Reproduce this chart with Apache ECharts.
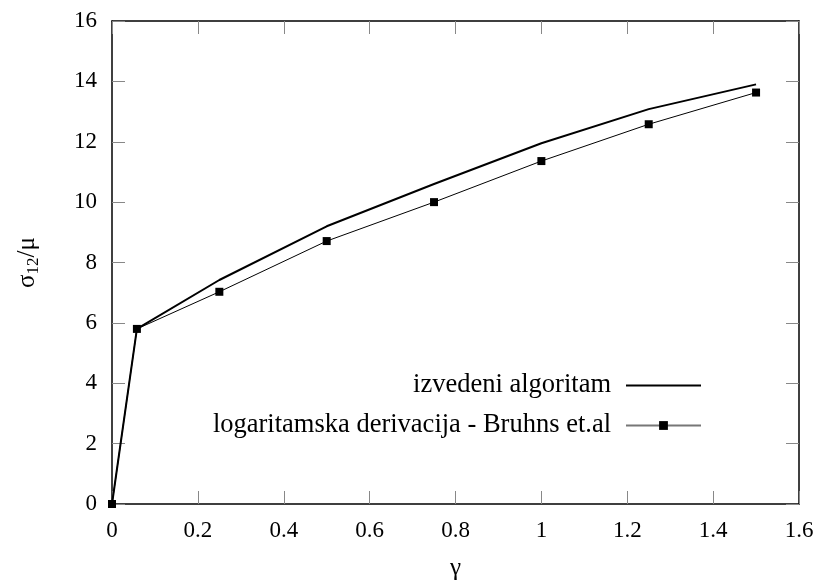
<!DOCTYPE html>
<html>
<head>
<meta charset="utf-8">
<script src="https://cdn.jsdelivr.net/npm/echarts@6/dist/echarts.min.js"></script>
<style>
  html, body { margin: 0; padding: 0; background: #fff; }
  #chart { width: 821px; height: 582px; }
</style>
</head>
<body>
<div id="chart"></div>
<script>
// gamma values (x)
const gamma = [0, 0.058, 0.25, 0.5, 0.75, 1.0, 1.25, 1.5];
// izvedeni algoritam
const izvedeni = [0, 5.8, 7.42, 9.2, 10.6, 11.95, 13.08, 13.9];
// logaritamska derivacija - Bruhns et.al
const bruhns = [0, 5.8, 7.03, 8.71, 10.0, 11.36, 12.58, 13.63];

const serif = 'Liberation Serif';
const pairs = (ys) => gamma.map((g, i) => [g, ys[i]]);

const tick = { show: true, inside: true, length: 13, lineStyle: { color: '#888', width: 1 } };
const line = { show: true, onZero: false, lineStyle: { color: '#000', width: 1.5 } };

const chart = echarts.init(document.getElementById('chart'));
chart.setOption({
  animation: false,
  backgroundColor: '#fff',
  grid: { left: 112, right: 22, top: 21, bottom: 78, outerBoundsMode: 'none', containLabel: false },
  legend: {
    orient: 'vertical',
    align: 'right',
    right: 114,
    top: 367,
    itemWidth: 75,
    itemHeight: 11,
    itemGap: 13,
    textStyle: { fontFamily: serif, fontSize: 26.5, lineHeight: 26, color: '#000', padding: [0, 10, 0, 0] },
    data: [
      { name: 'izvedeni algoritam', itemStyle: { opacity: 0 } },
      { name: 'logaritamska derivacija - Bruhns et.al', lineStyle: { color: '#777' } }
    ]
  },
  xAxis: [
    {
      type: 'value', min: 0, max: 1.6, interval: 0.2, position: 'bottom',
      name: 'γ', nameLocation: 'middle', nameGap: 52,
      nameTextStyle: { fontFamily: serif, fontSize: 25, color: '#000' },
      axisLine: line, axisTick: tick, splitLine: { show: false },
      axisLabel: { fontFamily: serif, fontSize: 23, color: '#000', margin: 15 }
    },
    {
      type: 'value', min: 0, max: 1.6, interval: 0.2, position: 'top',
      axisLine: line, axisTick: tick, splitLine: { show: false },
      axisLabel: { show: false }
    }
  ],
  yAxis: [
    {
      type: 'value', min: 0, max: 16, interval: 2, position: 'left',
      name: '{a|σ}{s|12}{a|/μ}', nameLocation: 'middle', nameGap: 70, nameRotate: 90,
      nameTextStyle: {
        rich: {
          a: { fontFamily: serif, fontSize: 25, color: '#000' },
          s: { fontFamily: serif, fontSize: 17, color: '#000', padding: [13, 0, 0, 0] }
        }
      },
      axisLine: line, axisTick: tick, splitLine: { show: false },
      axisLabel: { fontFamily: serif, fontSize: 23, color: '#000', margin: 15 }
    },
    {
      type: 'value', min: 0, max: 16, interval: 2, position: 'right',
      axisLine: line, axisTick: tick, splitLine: { show: false },
      axisLabel: { show: false }
    }
  ],
  series: [
    {
      name: 'izvedeni algoritam',
      type: 'line',
      data: pairs(izvedeni),
      symbol: 'none',
      lineStyle: { color: '#000', width: 2 },
      itemStyle: { color: '#000' },
      z: 3
    },
    {
      name: 'logaritamska derivacija - Bruhns et.al',
      type: 'line',
      data: pairs(bruhns),
      symbol: 'rect',
      symbolSize: 8,
      lineStyle: { color: '#000', width: 1 },
      itemStyle: { color: '#000' },
      z: 4
    }
  ]
});
</script>
</body>
</html>
